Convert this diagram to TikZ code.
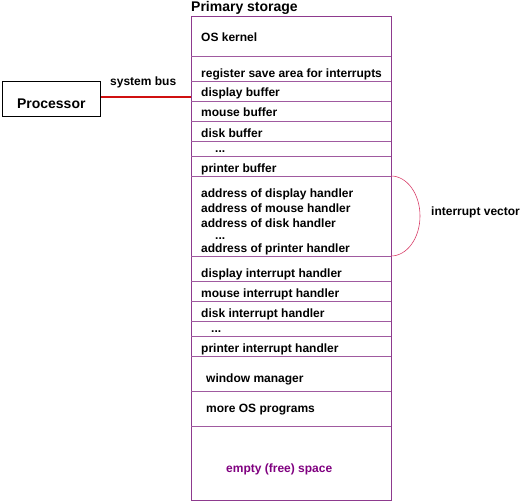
\documentclass[tikz,border=0pt]{standalone}
\usepackage{fontspec}
\setmainfont{Liberation Sans}
\definecolor{boxpurple}{HTML}{8E3A8E}
\definecolor{linepurple}{HTML}{A05AA0}
\definecolor{busred}{HTML}{D01010}
\definecolor{arcred}{HTML}{D8406A}
\definecolor{freepurple}{HTML}{800080}
\begin{document}
\begin{tikzpicture}[x=1pt,y=-1pt,
  every node/.style={font=\fontsize{12}{13}\selectfont\bfseries, inner sep=0pt},
  item/.style={anchor=base west},
  sep/.style={draw=linepurple, line width=0.5pt},
  big/.style={font=\fontsize{14}{15}\selectfont\bfseries}]
\useasboundingbox (0,0) rectangle (528,503);
% storage box
\node[draw=boxpurple, line width=0.7pt, fill=white, minimum width=200pt, minimum height=484pt, anchor=north west] (store) at (191,16) {};
\node[big, anchor=base west] (title) at (191,12) {Primary storage};
% separators
\foreach \yy [count=\i] in {56,81,101,121,141,156,176,256,281,301,321,336,356,391,426}{
  \coordinate (sl\i) at (191,\yy);
  \coordinate (sr\i) at (391,\yy);
  \draw[sep] (sl\i) -- (sr\i);
}
% entries
\node[item] (t1) at (201,42) {OS kernel};
\node[item] (t2) at (201,77.5) {register save area for interrupts};
\node[item] (t3) at (201,97) {display buffer};
\node[item] (t4) at (201,117) {mouse buffer};
\node[item] (t5) at (201,137) {disk buffer};
\node[item] (t6) at (215,152) {...};
\node[item] (t7) at (201,172) {printer buffer};
\node[item] (t8) at (201,197) {address of display handler};
\node[item] (t9) at (201,212) {address of mouse handler};
\node[item] (t10) at (201,227) {address of disk handler};
\node[item] (t11) at (215,239) {...};
\node[item] (t12) at (201,252) {address of printer handler};
\node[item] (t13) at (201,277) {display interrupt handler};
\node[item] (t14) at (201,297) {mouse interrupt handler};
\node[item] (t15) at (201,317) {disk interrupt handler};
\node[item] (t16) at (211,332) {...};
\node[item] (t17) at (201,352) {printer interrupt handler};
\node[item] (t18) at (206,382) {window manager};
\node[item] (t19) at (206,412) {more OS programs};
\node[item, text=freepurple] (t20) at (226,472) {empty (free) space};
% processor
\node[draw=black, line width=0.6pt, minimum width=98pt, minimum height=35pt, anchor=north west] (proc) at (2,81) {};
\node[big, anchor=base] (proctext) at ([yshift=-10pt]proc.center) {Processor};
\coordinate (busend) at (191,97);
\draw[busred, line width=1.2pt] (proc.east |- busend) -- (busend);
\node[item] (bus) at (110,86) {system bus};
% interrupt vector arc
\draw[arcred, line width=0.6pt] (sr7) arc[start angle=90, end angle=-90, x radius=29pt, y radius=40pt];
\node[item] (iv) at (431,215) {interrupt vector};
\end{tikzpicture}
\end{document}
